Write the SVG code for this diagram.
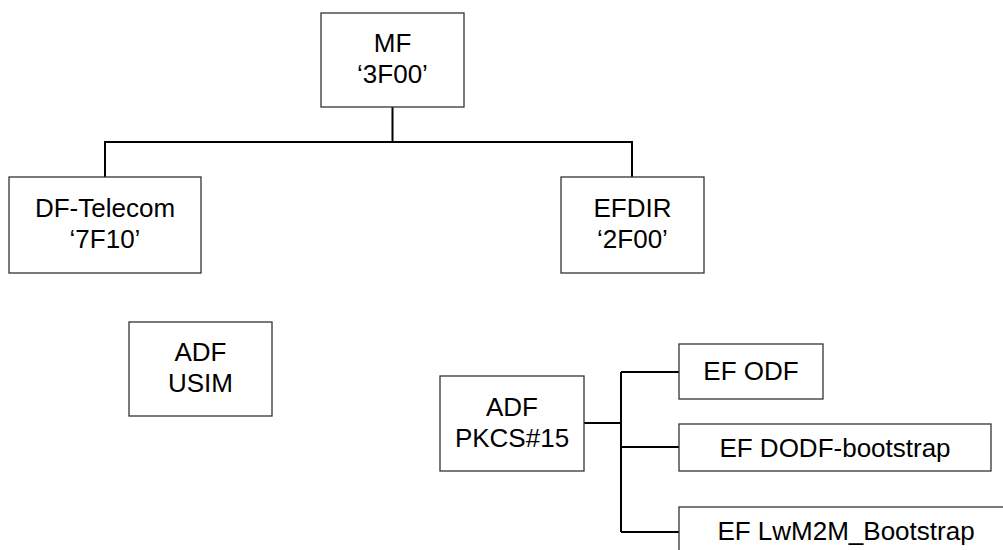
<svg xmlns="http://www.w3.org/2000/svg" width="1003" height="550" viewBox="0 0 1003 550">
<style>
.box{fill:#fff;stroke:#333;stroke-width:1.3}
.t{font-family:"Liberation Sans",Arial,sans-serif;font-size:26px;fill:#000;text-anchor:middle}
.c{fill:none;stroke:#000;stroke-width:2}
</style>
<rect width="1003" height="550" fill="#fff"/>
<g id="connectors">
<path class="c" d="M392.5,107 V142 M105,177 V142 H632 V177"/>
<path class="c" d="M584,423 H621 M621,372 V532 M621,372 H679 M621,447 H679 M621,532 H679"/>
</g>
<g id="mf">
<rect class="box" x="321" y="13" width="143" height="94"/>
<text class="t" x="392.5" y="52">MF</text>
<text class="t" x="392.5" y="83">‘3F00’</text>
</g>
<g id="df-telecom">
<rect class="box" x="9" y="177" width="192" height="96"/>
<text class="t" x="105" y="217">DF-Telecom</text>
<text class="t" x="105" y="248">‘7F10’</text>
</g>
<g id="efdir">
<rect class="box" x="561" y="177" width="143" height="96"/>
<text class="t" x="632.5" y="217">EFDIR</text>
<text class="t" x="632.5" y="248">‘2F00’</text>
</g>
<g id="adf-usim">
<rect class="box" x="129" y="322" width="143" height="94"/>
<text class="t" x="200.5" y="361">ADF</text>
<text class="t" x="200.5" y="392">USIM</text>
</g>
<g id="adf-pkcs15">
<rect class="box" x="440" y="376" width="144" height="95"/>
<text class="t" x="512" y="416">ADF</text>
<text class="t" x="512" y="447">PKCS#15</text>
</g>
<g id="ef-odf">
<rect class="box" x="679" y="344" width="144" height="55"/>
<text class="t" x="751" y="380">EF ODF</text>
</g>
<g id="ef-dodf">
<rect class="box" x="679" y="424" width="312" height="47"/>
<text class="t" x="835" y="457">EF DODF-bootstrap</text>
</g>
<g id="ef-lwm2m">
<rect class="box" x="679" y="507" width="334" height="60"/>
<text class="t" x="846" y="540">EF LwM2M_Bootstrap</text>
</g>
</svg>
